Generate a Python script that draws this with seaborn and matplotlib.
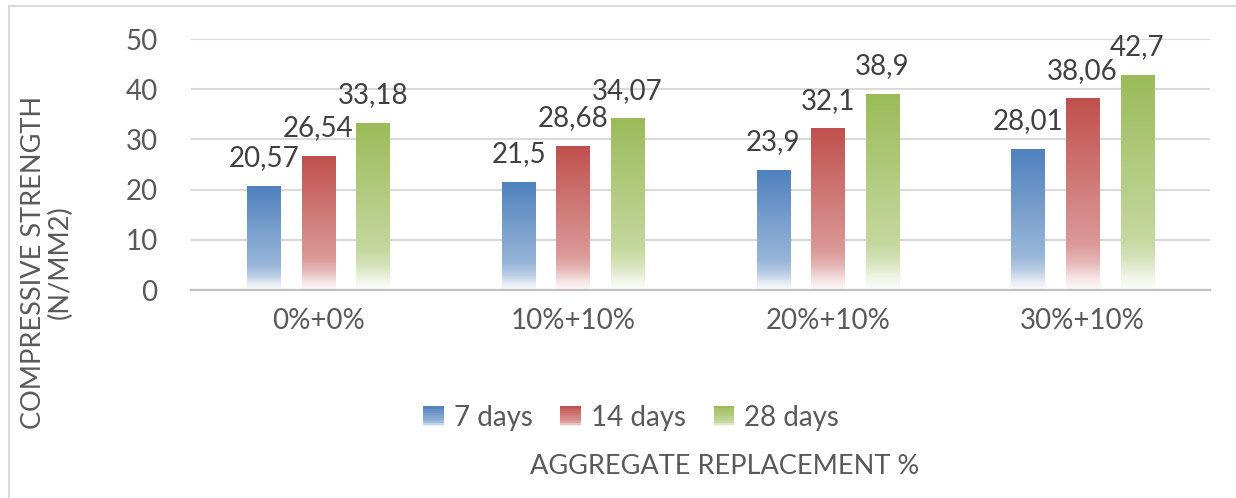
import numpy as np
import pandas as pd
import matplotlib
matplotlib.use("Agg")
import matplotlib.pyplot as plt
from matplotlib.lines import Line2D
from matplotlib.legend_handler import HandlerBase
from matplotlib.patches import Rectangle
import seaborn as sns

# ---- data ----
categories = ["0%+0%", "10%+10%", "20%+10%", "30%+10%"]
ages = ["7 days", "14 days", "28 days"]
strength_7 = [20.57, 21.5, 23.9, 28.01]
strength_14 = [26.54, 28.68, 32.1, 38.06]
strength_28 = [33.18, 34.07, 38.9, 42.7]
y_ticks = [0, 10, 20, 30, 40, 50]

colors = ["#4F81BD", "#C0504D", "#9BBB59"]
text_dark = "#404040"
text_mid = "#595959"
grid_col = "#D9D9D9"
FS = 20

df = pd.DataFrame({
    "mix": categories * 3,
    "age": [ages[0]] * 4 + [ages[1]] * 4 + [ages[2]] * 4,
    "value": strength_7 + strength_14 + strength_28,
})

sns.set_theme(style="white")
plt.rcParams["font.family"] = ["Lato", "DejaVu Sans"]

fig = plt.figure(figsize=(12.36, 4.98), dpi=100)
ax = fig.add_axes([191 / 1236, 1 - 290 / 498, (1210 - 191) / 1236, (290 - 39) / 498])

sns.barplot(data=df, x="mix", y="value", hue="age", order=categories,
            hue_order=ages, palette=colors, width=0.642, gap=0.39,
            errorbar=None, legend=False, ax=ax)


def fade(s):
    """Amount of white mixed in, s = 0 at bar foot, 1 at bar top."""
    return np.interp(s, [0.0, 0.06, 0.14, 0.24, 1.0], [0.97, 0.85, 0.6, 0.42, 0.0])


def gradient_image(color, n=256):
    rgb = np.array(matplotlib.colors.to_rgb(color))
    s = np.linspace(1, 0, n)[:, None]
    w = fade(s)
    img = rgb[None, :] * (1 - w) + w
    return img[:, None, :]


# paint each bar with a vertical fade and label it
for container, col in zip(ax.containers, colors):
    img = gradient_image(col)
    for p in container.patches:
        x0, w, h = p.get_x(), p.get_width(), p.get_height()
        ax.imshow(img, extent=[x0, x0 + w, 0, h], aspect="auto",
                  interpolation="bilinear", zorder=2)
        p.set_visible(False)
    labels = [("%g" % v).replace(".", ",") for v in container.datavalues]
    ax.bar_label(container, labels=labels, padding=11, fontsize=FS,
                 color=text_dark)

ax.set_xlim(-0.5, 3.5)
ax.set_ylim(0, 50)
ax.set_yticks(y_ticks)
ax.yaxis.grid(True, color=grid_col, linewidth=1.5)
ax.set_axisbelow(True)
for side in ["top", "right", "left"]:
    ax.spines[side].set_visible(False)
ax.spines["bottom"].set_color("#BFBFBF")
ax.spines["bottom"].set_linewidth(1.5)
ax.tick_params(axis="both", length=0, labelsize=FS, labelcolor=text_mid)
ax.tick_params(axis="y", pad=24)
ax.tick_params(axis="x", pad=13)
ax.set_xlabel("")
ax.set_ylabel("")

fig.text(47 / 1236, 1 - 262 / 498, "COMPRESSIVE STRENGTH\n(N/MM2)",
         rotation=90, ha="center", va="center", fontsize=FS - 0.5, color=text_mid,
         linespacing=1.05)
fig.text(725 / 1236, 1 - 466 / 498, "AGGREGATE REPLACEMENT %",
         ha="center", va="center", fontsize=FS - 0.5, color=text_mid)


class GradientHandler(HandlerBase):
    def create_artists(self, legend, orig_handle, xdescent, ydescent,
                       width, height, fontsize, trans):
        col = orig_handle.get_facecolor()
        size = height * 1.05
        x0 = xdescent + (width - size) / 2
        y0 = -ydescent + (height - size) / 2
        arts = []
        steps = 12
        for i in range(steps):
            s = (i + 0.5) / steps
            w = fade(s)
            c = np.array(col[:3]) * (1 - w) + w
            arts.append(Rectangle((x0, y0 + size * i / steps), size, size / steps,
                                  facecolor=c, edgecolor="none", transform=trans))
        return arts


handles = [Rectangle((0, 0), 1, 1, facecolor=c) for c in colors]
fig.legend(handles, ages, handler_map={Rectangle: GradientHandler()},
           loc="center", bbox_to_anchor=(631 / 1236, 1 - 418 / 498), ncol=3,
           frameon=False, fontsize=FS, labelcolor=text_mid,
           handlelength=0.75, handletextpad=0.35, columnspacing=1.0)

# chart frame (left and top edges)
fig.add_artist(Line2D([9 / 1236, 9 / 1236], [0, 1 - 6 / 498], color=grid_col,
                      linewidth=1.5, transform=fig.transFigure))
fig.add_artist(Line2D([9 / 1236, 1], [1 - 6 / 498, 1 - 6 / 498], color=grid_col,
                      linewidth=1.5, transform=fig.transFigure))

fig.savefig("out.png", dpi=100, facecolor="white")
